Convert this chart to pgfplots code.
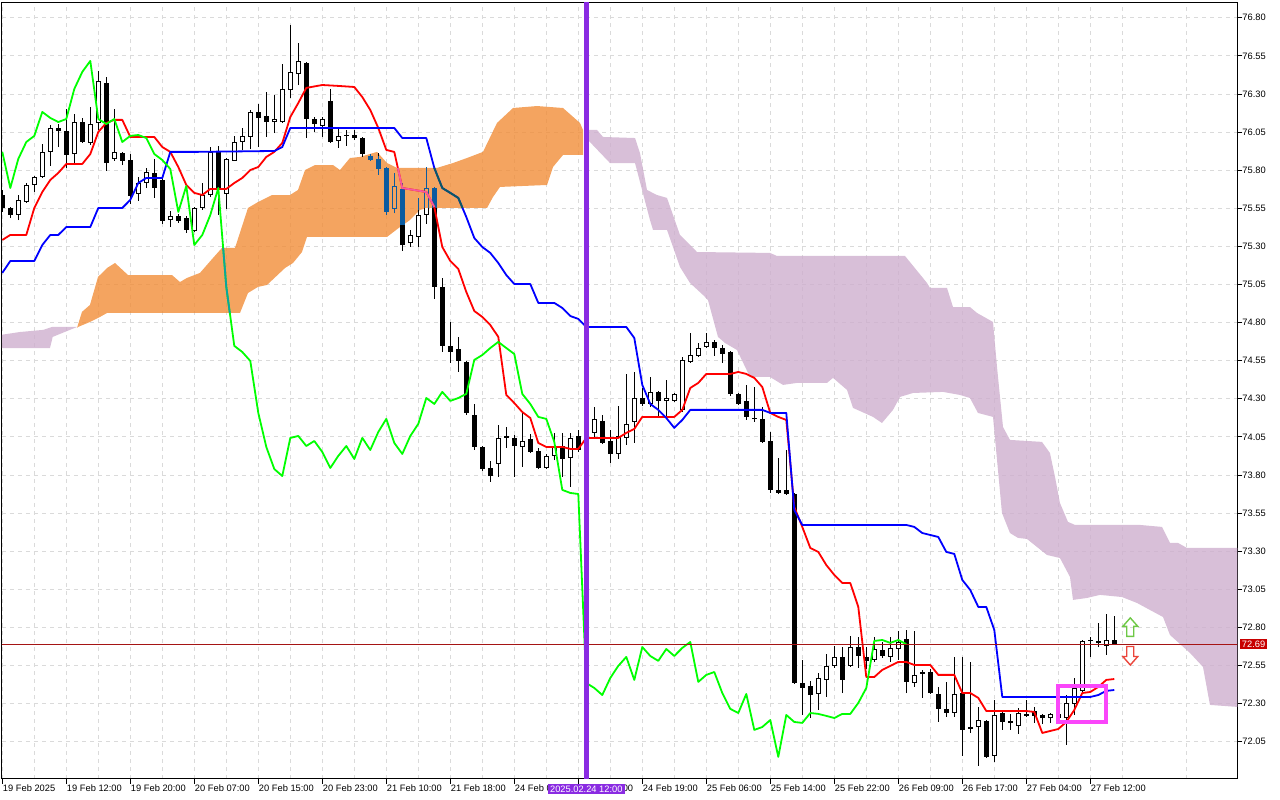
\documentclass[border=0pt]{standalone}
\usepackage{fontspec}
\setmainfont{Liberation Sans}
\usepackage{pgfplots}
\usepackage{pgfplotstable}
\pgfplotsset{compat=1.18}
\definecolor{tenkan}{RGB}{255,0,0}
\definecolor{kijun}{RGB}{0,0,255}
\definecolor{chikou}{RGB}{0,255,0}
\definecolor{cloudup}{RGB}{241,141,56}
\definecolor{clouddn}{RGB}{206,175,206}
\definecolor{sandy}{RGB}{244,164,96}
\definecolor{xblue}{RGB}{11,91,159}
\definecolor{xpink}{RGB}{244,91,159}
\definecolor{xteal}{RGB}{11,91,96}
\definecolor{xgreen}{RGB}{11,164,159}
\definecolor{vpurple}{RGB}{138,43,226}
\definecolor{boxmag}{RGB}{250,70,250}
\definecolor{pricered}{RGB}{200,0,0}
\definecolor{bidline}{RGB}{165,20,20}
\definecolor{gridgray}{RGB}{218,218,218}
\definecolor{upgreen}{RGB}{110,200,70}
\definecolor{dnred}{RGB}{235,70,60}

\pgfdeclareplotmark{uparr}{%
 \pgfpathmoveto{\pgfqpoint{0pt}{9pt}}%
 \pgfpathlineto{\pgfqpoint{7.5pt}{0.5pt}}%
 \pgfpathlineto{\pgfqpoint{3.5pt}{0.5pt}}%
 \pgfpathlineto{\pgfqpoint{3.5pt}{-9.5pt}}%
 \pgfpathlineto{\pgfqpoint{-3.5pt}{-9.5pt}}%
 \pgfpathlineto{\pgfqpoint{-3.5pt}{0.5pt}}%
 \pgfpathlineto{\pgfqpoint{-7.5pt}{0.5pt}}%
 \pgfpathclose
 \pgfusepathqstroke}
\pgfdeclareplotmark{dnarr}{%
 \pgfpathmoveto{\pgfqpoint{0pt}{-9pt}}%
 \pgfpathlineto{\pgfqpoint{7.5pt}{-0.5pt}}%
 \pgfpathlineto{\pgfqpoint{3.5pt}{-0.5pt}}%
 \pgfpathlineto{\pgfqpoint{3.5pt}{9.5pt}}%
 \pgfpathlineto{\pgfqpoint{-3.5pt}{9.5pt}}%
 \pgfpathlineto{\pgfqpoint{-3.5pt}{-0.5pt}}%
 \pgfpathlineto{\pgfqpoint{-7.5pt}{-0.5pt}}%
 \pgfpathclose
 \pgfusepathqstroke}

\pgfplotstableread{
i O H L C
0 75.637 75.670 75.526 75.552
1 75.552 75.559 75.486 75.506
2 75.506 75.637 75.473 75.605
3 75.591 75.716 75.585 75.703
4 75.703 75.762 75.657 75.756
5 75.756 75.972 75.749 75.920
6 75.920 76.097 75.828 76.077
7 76.077 76.103 75.952 76.057
8 76.057 76.202 75.815 75.900
9 75.906 76.169 75.847 76.116
10 76.116 76.143 75.979 75.985
11 75.979 76.215 75.966 76.103
12 76.110 76.451 76.064 76.385
13 76.372 76.412 75.795 75.847
14 75.874 76.202 75.861 75.920
15 75.913 75.920 75.834 75.861
16 75.867 75.906 75.578 75.631
17 75.644 75.756 75.598 75.716
18 75.716 75.815 75.683 75.788
19 75.782 75.874 75.618 75.683
20 75.736 75.749 75.447 75.467
21 75.473 75.532 75.427 75.500
22 75.500 75.513 75.454 75.467
23 75.486 75.500 75.388 75.408
24 75.401 75.559 75.395 75.552
25 75.552 75.716 75.539 75.637
26 75.637 75.952 75.624 75.920
27 75.920 75.959 75.506 75.683
28 75.644 75.880 75.546 75.874
29 75.861 76.025 75.861 75.985
30 75.985 76.077 75.933 76.025
31 76.018 76.195 75.939 76.182
32 76.182 76.235 75.952 76.143
33 76.156 76.313 76.018 76.116
34 76.116 76.294 76.044 76.136
35 76.116 76.497 76.110 76.333
36 76.326 76.753 76.274 76.445
37 76.431 76.635 76.359 76.517
38 76.504 76.510 76.011 76.136
39 76.136 76.149 76.051 76.103
40 76.090 76.149 76.018 76.136
41 76.254 76.333 75.979 75.985
42 75.992 76.070 75.946 76.025
43 76.025 76.064 75.959 76.031
44 76.031 76.064 75.998 76.011
45 76.011 76.018 75.887 75.906
46 75.893 75.906 75.861 75.867
47 75.874 75.913 75.769 75.808
48 75.815 75.821 75.506 75.526
49 75.546 75.782 75.519 75.696
50 75.677 75.716 75.270 75.309
51 75.322 75.408 75.296 75.375
52 75.362 75.618 75.296 75.506
53 75.506 75.821 75.447 75.683
54 75.683 75.690 74.955 75.034
55 75.034 75.093 74.607 74.647
56 74.647 74.804 74.535 74.607
57 74.627 74.706 74.476 74.548
58 74.542 74.548 74.194 74.207
59 74.194 74.266 73.964 73.984
60 73.984 73.990 73.826 73.839
61 73.846 73.892 73.754 73.793
62 73.872 74.128 73.787 74.043
63 74.043 74.115 73.977 74.056
64 74.043 74.063 73.787 73.990
65 73.984 74.207 73.853 74.023
66 74.036 74.069 73.944 73.951
67 73.958 73.977 73.839 73.846
68 73.846 73.938 73.839 73.925
69 73.925 74.076 73.898 73.990
70 73.990 74.076 73.787 73.905
71 73.912 74.076 73.721 74.043
72 74.056 74.095 73.951 73.964
73 73.964 74.128 73.951 74.082
74 74.076 74.246 74.049 74.168
75 74.154 74.194 74.003 74.010
76 74.023 74.095 73.879 73.938
77 73.938 74.253 73.905 74.056
78 74.043 74.463 73.997 74.135
79 74.148 74.476 74.010 74.305
80 74.305 74.371 74.253 74.266
81 74.266 74.443 74.246 74.345
82 74.345 74.351 74.181 74.286
83 74.286 74.423 74.181 74.305
84 74.286 74.338 74.279 74.332
85 74.227 74.574 74.213 74.555
86 74.542 74.732 74.535 74.587
87 74.581 74.666 74.574 74.633
88 74.640 74.732 74.633 74.673
89 74.673 74.686 74.581 74.633
90 74.633 74.653 74.535 74.594
91 74.607 74.614 74.318 74.332
92 74.332 74.338 74.259 74.266
93 74.286 74.391 74.161 74.181
94 74.174 74.377 74.148 74.168
95 74.168 74.246 74.010 74.017
96 74.023 74.082 73.682 73.702
97 73.702 73.912 73.675 73.682
98 73.702 73.964 73.669 73.675
99 73.675 73.682 72.429 72.435
100 72.435 72.586 72.225 72.402
101 72.415 72.448 72.205 72.356
102 72.363 72.501 72.258 72.468
103 72.455 72.625 72.343 72.547
104 72.547 72.678 72.534 72.606
105 72.606 72.671 72.369 72.455
106 72.547 72.744 72.540 72.671
107 72.671 72.737 72.534 72.612
108 72.606 72.671 72.527 72.580
109 72.586 72.737 72.573 72.658
110 72.652 72.704 72.599 72.612
111 72.606 72.737 72.573 72.665
112 72.658 72.776 72.586 72.704
113 72.724 72.783 72.369 72.442
114 72.435 72.776 72.409 72.488
115 72.494 72.521 72.337 72.507
116 72.507 72.527 72.363 72.369
117 72.363 72.409 72.179 72.265
118 72.265 72.442 72.212 72.238
119 72.238 72.606 72.212 72.363
120 72.369 72.606 71.956 72.127
121 72.133 72.573 72.107 72.146
122 72.146 72.278 71.891 72.192
123 72.186 72.192 71.943 71.950
124 71.956 72.324 71.917 72.225
125 72.238 72.245 72.127 72.179
126 72.186 72.232 72.127 72.173
127 72.153 72.271 72.101 72.238
128 72.219 72.324 72.212 72.232
129 72.251 72.278 72.173 72.219
130 72.225 72.232 72.166 72.205
131 72.205 72.238 72.173 72.232
132 72.205 72.258 72.179 72.232
133 72.205 72.356 72.028 72.304
134 72.297 72.468 72.225 72.402
135 72.383 72.717 72.369 72.711
136 72.711 72.737 72.606 72.717
137 72.711 72.829 72.671 72.698
138 72.678 72.888 72.619 72.717
139 72.717 72.875 72.690 72.690
}\candles

% parts of candles lying inside the bullish cloud (shown in inverted colours)
\pgfplotstableread{
i lo hi
46 75.861 75.906
47 75.769 75.890
48 75.506 75.821
49 75.519 75.782
50 75.438 75.716
52 75.539 75.618
53 75.552 75.821
54 75.552 75.690
}\xwick
\pgfplotstableread{
i lo hi
46 75.867 75.893
47 75.808 75.874
48 75.526 75.815
49 75.546 75.696
50 75.438 75.677
53 75.552 75.683
54 75.552 75.683
}\xbody
\pgfplotstableread{
i lo hi
49 75.5526 75.6894
53 75.5520 75.6764
}\xinner

\begin{document}
\begin{tikzpicture}[x=1pt,y=1pt]
\useasboundingbox (0,0) rectangle (1280,800);
\begin{axis}[
  at={(2pt,21pt)}, anchor=south west,
  scale only axis, width=1235.3pt, height=776.5pt,
  xmin=-0.0375, xmax=154.375, ymin=71.805, ymax=76.9006,
  axis line style={black, line width=1pt},
  tick align=outside,
  xtick pos=left, ytick pos=right,
  yticklabel pos=right,
  major tick length=5pt, minor tick length=0pt,
  tick style={black, line width=0.8pt},
  xtick={0,8,...,136},
  xticklabels={19 Feb 2025,19 Feb 12:00,19 Feb 20:00,20 Feb 07:00,20 Feb 15:00,20 Feb 23:00,21 Feb 10:00,21 Feb 18:00,24 Feb 03:00,24 Feb 11:00,24 Feb 19:00,25 Feb 06:00,25 Feb 14:00,25 Feb 22:00,26 Feb 09:00,26 Feb 17:00,27 Feb 04:00,27 Feb 12:00},
  minor xtick={4,12,...,156},
  ytick={72.05,72.30,72.55,72.80,73.05,73.30,73.55,73.80,74.05,74.30,74.55,74.80,75.05,75.30,75.55,75.80,76.05,76.30,76.55,76.80},
  grid=both,
  major grid style={draw=gridgray, line width=0.8pt, dash pattern=on 4pt off 4pt},
  minor grid style={draw=gridgray, line width=0.8pt, dash pattern=on 4pt off 4pt},
  tick label style={font=\fontsize{9.3}{11}\selectfont, inner sep=0pt},
  xticklabel style={anchor=north west, xshift=0.5pt, yshift=-1pt},
  yticklabel style={anchor=west, xshift=0pt, /pgf/number format/.cd, fixed, fixed zerofill, precision=2, assume math mode=true},
]
% Kumo (cloud)
\addplot[fill=clouddn, fill opacity=0.8, draw=none, forget plot] coordinates {
(-0.2,74.719) (2.2,74.738) (5.1,74.752) (6.2,74.771) (9.34,74.771)
(6.3,74.706) (5.96,74.633) (-0.2,74.633)};
\addplot[fill=cloudup, fill opacity=0.8, draw=none, forget plot] coordinates {
(9.34,74.765) (9.96,74.870) (10.96,74.916) (11.96,75.099) (13.09,75.158) (14.09,75.191)
(15.71,75.112) (21.21,75.112) (22.21,75.066) (23.09,75.093) (24.71,75.126) (26.34,75.224)
(27.46,75.290) (29.09,75.290) (30.71,75.552) (31.96,75.591) (33.71,75.637) (35.96,75.637)
(36.96,75.670) (37.84,75.801) (39.09,75.834) (41.34,75.834) (42.21,75.801) (43.46,75.880)
(44.71,75.887) (46.84,75.920) (48.09,75.847) (49.34,75.815) (54.34,75.815) (56.34,75.847)
(58.09,75.880) (60.09,75.920) (61.84,76.110) (63.84,76.208) (66.84,76.221) (70.09,76.208)
(72.21,76.110) (72.59,76.064)
(72.59,75.900) (70.09,75.900) (68.84,75.821) (68.09,75.703) (62.21,75.690) (61.34,75.624)
(60.59,75.552) (53.09,75.552) (52.21,75.539) (50.96,75.473) (49.71,75.427) (48.09,75.362)
(38.09,75.362) (37.46,75.263) (36.34,75.191) (35.34,75.158) (33.09,75.047) (31.96,75.034)
(30.71,74.994) (29.71,74.863) (13.09,74.863) (12.21,74.837) (10.96,74.804) (9.46,74.771)};
\addplot[fill=clouddn, fill opacity=0.8, draw=none, forget plot] coordinates {
(73.21,76.064) (74.34,76.064) (75.09,76.018) (79.09,76.011) (79.71,75.913) (80.59,75.670)
(81.84,75.637) (83.09,75.618) (84.71,75.375) (86.84,75.263) (95.96,75.257) (96.84,75.237)
(112.84,75.237) (115.59,75.060) (115.96,75.027) (118.09,75.027) (118.84,74.902) (120.96,74.902)
(121.84,74.863) (123.84,74.804) (124.34,74.509) (125.09,74.115) (125.96,74.030) (129.96,74.017)
(130.96,73.944) (131.59,73.787) (132.21,73.616) (133.21,73.492) (134.09,73.472) (142.21,73.472)
(144.96,73.459) (145.96,73.354) (146.96,73.354) (148.09,73.321) (156,73.321)
(156,72.278) (154.34,72.278) (150.96,72.291) (150.09,72.540) (148.46,72.632) (145.96,72.750)
(145.09,72.868) (143.46,72.914) (141.84,72.960) (139.96,72.999) (137.21,73.013) (135.59,72.993)
(133.84,72.980) (133.46,73.131) (132.21,73.255) (130.59,73.275) (128.09,73.380) (126.96,73.387)
(125.96,73.419) (124.96,73.551) (123.84,74.181) (121.96,74.207) (120.96,74.305) (119.71,74.325)
(117.59,74.345) (113.84,74.338) (112.21,74.312) (111.34,74.227) (109.96,74.141) (108.84,74.181)
(106.34,74.240) (105.59,74.358) (103.84,74.437) (103.09,74.404) (99.34,74.404) (97.59,74.391)
(95.96,74.443) (93.46,74.443) (91.84,74.620) (90.34,74.666) (89.46,74.706) (88.21,74.948)
(87.59,74.981) (85.96,75.060) (84.71,75.165) (83.09,75.408) (81.34,75.408) (80.96,75.473)
(79.09,75.847) (75.96,75.847) (73.21,75.998)};

% wicks
\addplot[forget plot, draw=none, mark=none,
  error bars/.cd, y dir=plus, y explicit, error mark=none,
  error bar style={draw=black, line width=1pt, solid}]
  table[x=i, y=L, y error expr={\thisrow{H}-\thisrow{L}}] {\candles};
% bodies (outline / black)
\addplot[forget plot, draw=none, mark=none,
  error bars/.cd, y dir=plus, y explicit, error mark=none,
  error bar style={draw=black, line width=5pt, solid}]
  table[x=i, y expr={min(\thisrow{O},\thisrow{C})}, y error expr={max(abs(\thisrow{C}-\thisrow{O}),0.0066)}] {\candles};
% bodies (white inside bullish)
\addplot[forget plot, draw=none, mark=none,
  error bars/.cd, y dir=plus, y explicit, error mark=none,
  error bar style={draw=white, line width=3pt, solid}]
  table[x=i, y expr={(\thisrow{C}-\thisrow{O}>0.0132) ? (\thisrow{O}+0.0066) : 60}, y error expr={max(\thisrow{C}-\thisrow{O}-0.0132,0)}] {\candles};
% candle parts inside the orange cloud
\addplot[forget plot, draw=none, mark=none,
  error bars/.cd, y dir=plus, y explicit, error mark=none,
  error bar style={draw=xblue, line width=1pt, solid}]
  table[x=i, y=lo, y error expr={\thisrow{hi}-\thisrow{lo}}] {\xwick};
\addplot[forget plot, draw=none, mark=none,
  error bars/.cd, y dir=plus, y explicit, error mark=none,
  error bar style={draw=xblue, line width=5pt, solid}]
  table[x=i, y=lo, y error expr={\thisrow{hi}-\thisrow{lo}}] {\xbody};
\addplot[forget plot, draw=none, mark=none,
  error bars/.cd, y dir=plus, y explicit, error mark=none,
  error bar style={draw=sandy, line width=3pt, solid}]
  table[x=i, y=lo, y error expr={\thisrow{hi}-\thisrow{lo}}] {\xinner};

% Tenkan-sen
\addplot[tenkan, line width=1.8pt, mark=none, line join=round] coordinates {
(0,75.342) (1,75.375) (3,75.375) (4,75.552) (5,75.657) (6,75.736) (7,75.782) (8,75.841) (10,75.841)
(11,75.906) (12,76.051) (13,76.110) (14,76.130) (15,76.130) (16,76.018) (19,76.018) (20,75.952)
(21,75.920) (22,75.821) (23,75.703) (24,75.651) (25,75.637) (26,75.677) (28,75.677) (29,75.716)
(30,75.749) (31,75.801) (32,75.821) (33,75.887) (34,75.920) (35,75.979) (36,76.149) (37,76.241)
(38,76.340) (40,76.359) (42,76.353) (44,76.346) (45,76.280) (46,76.195) (47,76.077) (48,75.933)
(49,75.920) (50,75.683) (53,75.657) (54,75.559) (55,75.296) (56,75.204) (57,75.152) (58,75.001)
(59,74.876) (60,74.837) (61,74.784) (62,74.706) (63,74.325) (64,74.272) (65,74.213) (66,74.174)
(67,74.010) (68,73.984) (70,73.984) (71,73.971) (72,73.971) (73,74.043) (77,74.043) (78,74.076)
(79,74.102) (80,74.181) (84,74.181) (85,74.227) (86,74.371) (87,74.404) (88,74.463) (91,74.463)
(92,74.476) (93,74.463) (94,74.437) (95,74.377) (96,74.207) (97,74.181) (98,74.161) (99,73.590)
(100,73.459) (101,73.321) (102,73.295) (103,73.209) (104,73.144) (105,73.091) (106,73.091)
(107,72.934) (108,72.474) (109,72.474) (110,72.521) (111,72.547) (112,72.573) (113,72.573)
(114,72.553) (116,72.553) (117,72.488) (119,72.488) (120,72.369) (121,72.369) (122,72.337)
(123,72.251) (128,72.251) (129,72.245) (130,72.107) (131,72.120) (132,72.133) (133,72.179)
(134,72.258) (135,72.369) (136,72.376) (137,72.409) (138,72.455) (139,72.461)};

% Kijun-sen
\addplot[kijun, line width=1.8pt, mark=none, line join=round] coordinates {
(0,75.126) (1,75.204) (4,75.204) (5,75.309) (6,75.375) (7,75.375) (8,75.427) (11,75.427)
(12,75.552) (15,75.552) (16,75.605) (17,75.716) (18,75.749) (20,75.749) (21,75.920) (24,75.920)
(34,75.926) (35,75.952) (36,76.077) (49,76.077) (50,76.011) (53,76.011) (54,75.815) (55,75.683)
(56,75.651) (57,75.618) (58,75.493) (59,75.355) (60,75.296) (61,75.257) (62,75.191) (63,75.112)
(64,75.053) (66,75.053) (67,74.929) (69,74.929) (70,74.896) (71,74.843) (72,74.824) (73,74.771)
(78,74.771) (79,74.699) (80,74.391) (81,74.266) (82,74.227) (83,74.174) (84,74.109) (85,74.161)
(86,74.227) (95,74.227) (96,74.207) (98,74.207) (99,73.570) (100,73.472) (113,73.472)
(114,73.459) (115,73.419) (117,73.393) (118,73.295) (119,73.282) (120,73.111) (121,73.045)
(122,72.934) (123,72.934) (124,72.783) (125,72.343) (136,72.343) (137,72.356) (138,72.383)
(139,72.389)};

% Chikou span
\addplot[chikou, line width=1.8pt, mark=none, line join=round] coordinates {
(0,75.920) (1,75.683) (2,75.874) (3,75.985) (4,76.025) (5,76.182) (6,76.143) (7,76.116)
(8,76.136) (9,76.333) (10,76.445) (11,76.517) (12,76.136) (13,76.103) (14,76.136) (15,75.985)
(16,76.025) (17,76.031) (18,76.011) (19,75.906) (20,75.867) (21,75.808) (22,75.526) (23,75.696)
(24,75.309) (25,75.375) (26,75.506) (27,75.683) (28,75.034) (29,74.647) (30,74.607) (31,74.548)
(32,74.207) (33,73.984) (34,73.839) (35,73.793) (36,74.043) (37,74.056) (38,73.990) (39,74.023)
(40,73.951) (41,73.846) (42,73.925) (43,73.990) (44,73.905) (45,74.043) (46,73.964) (47,74.082)
(48,74.168) (49,74.010) (50,73.938) (51,74.056) (52,74.135) (53,74.305) (54,74.266) (55,74.345)
(56,74.286) (57,74.305) (58,74.332) (59,74.555) (60,74.587) (61,74.633) (62,74.673) (63,74.633)
(64,74.594) (65,74.332) (66,74.266) (67,74.181) (68,74.168) (69,74.017) (70,73.702) (71,73.682)
(72,73.675) (73,72.435) (74,72.402) (75,72.356) (76,72.468) (77,72.547) (78,72.606) (79,72.455)
(80,72.671) (81,72.612) (82,72.580) (83,72.658) (84,72.612) (85,72.665) (86,72.704) (87,72.442)
(88,72.488) (89,72.507) (90,72.369) (91,72.265) (92,72.238) (93,72.363) (94,72.127) (95,72.146)
(96,72.192) (97,71.950) (98,72.225) (99,72.179) (100,72.173) (101,72.238) (102,72.232)
(103,72.219) (104,72.205) (105,72.232) (106,72.232) (107,72.304) (108,72.402) (109,72.711)
(110,72.717) (111,72.698) (112,72.717) (113,72.690)};

% line parts inside the orange cloud (inverted colours)
\addplot[xpink, line width=1.8pt, mark=none, line join=round] coordinates {
(49.44,75.815) (50,75.683) (53,75.657) (54,75.559)};
\addplot[xteal, line width=1.8pt, mark=none, line join=round] coordinates {
(54,75.815) (55,75.683) (56,75.651) (57,75.618) (57.53,75.552)};
\addplot[xgreen, line width=1.8pt, mark=none, line join=round] coordinates {
(27.61,75.290) (28,75.034) (28.44,74.863)};

% bid line
\addplot[bidline, line width=0.9pt, mark=none] coordinates {(-1,72.69) (160,72.69)};
% vertical separator
\addplot[vpurple, line width=4.5pt, mark=none] coordinates {(73,71) (73,78)};
% highlight box
\addplot[boxmag, line width=4pt, mark=none, line join=miter] coordinates {
(131.96,72.415) (137.96,72.415) (137.96,72.179) (131.96,72.179) (131.96,72.415) (137.96,72.415)};
% signal arrows
\addplot[only marks, mark=uparr, mark options={draw=upgreen, line width=1.4pt, fill=none}] coordinates {(141,72.803)};
\addplot[only marks, mark=dnarr, mark options={draw=dnred, line width=1.4pt, fill=none}] coordinates {(141,72.612)};

\coordinate (pl) at (axis cs:154.375,72.69);
\coordinate (vb) at (axis cs:73,71.805);
\end{axis}
\node[fill=pricered, text=white, anchor=west, inner xsep=2pt, inner ysep=1.8pt,
  font=\fontsize{9.3}{11}\selectfont] at ([xshift=2.5pt]pl) {72.69};
\node[fill=vpurple, text=white, anchor=north, inner xsep=2.3pt, inner ysep=1.6pt,
  font=\fontsize{9.3}{11}\selectfont] at ([yshift=-5pt]vb) {2025.02.24 12:00};
\end{tikzpicture}
\end{document}
